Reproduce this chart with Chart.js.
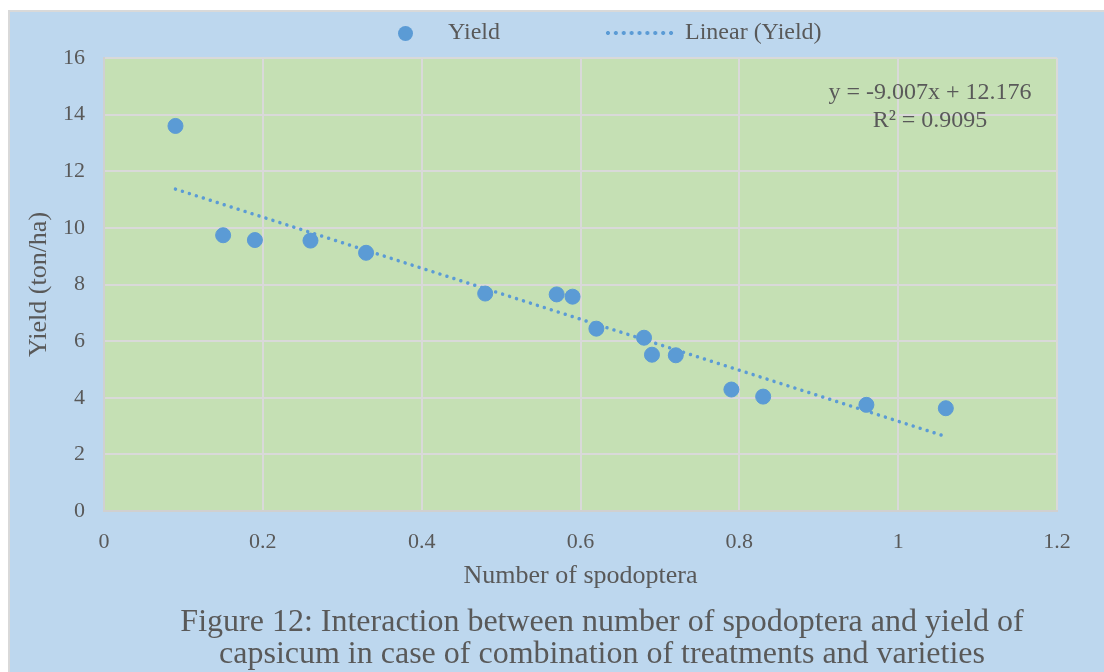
<!DOCTYPE html>
<html>
<head>
<meta charset="utf-8">
<script src="https://cdn.jsdelivr.net/npm/chart.js@4"></script>
<style>
  body { margin: 0; background: #fff; width: 1104px; height: 672px; overflow: hidden; position: relative; font-family: "Liberation Serif", serif; color: #595959; }
  #frame { position: absolute; left: 8px; top: 10px; right: 0; bottom: 0; background: #BDD7EE; border-left: 2px solid #D9D9D9; border-top: 2px solid #D9D9D9; }
  #graf { position: absolute; left: 0; top: 0; }
  .abs { position: absolute; white-space: nowrap; }
  #legDot { left: 398px; top: 26px; width: 15px; height: 15px; border-radius: 50%; background: #5B9BD5; }
  #legLine { left: 604px; top: 30px; width: 71px; height: 6px;
      background-image: radial-gradient(circle, #5B9BD5 1.7px, transparent 2.3px);
      background-size: 7.9px 6px; }
  .legTxt { font-size: 24px; top: 18px; }
  #eq { left: 780px; width: 300px; top: 77px; text-align: center; font-size: 24px; line-height: 28px; }
  #caption { left: 100px; width: 1004px; top: 604px; text-align: center; font-size: 32px; line-height: 32px; }
</style>
</head>
<body>
<div id="frame"></div>
<canvas id="graf" width="1104" height="672"></canvas>
<div class="abs" id="legDot"></div>
<div class="abs legTxt" style="left:448px">Yield</div>
<div class="abs" id="legLine"></div>
<div class="abs legTxt" style="left:685px">Linear (Yield)</div>
<div class="abs" id="eq">y = -9.007x + 12.176<br>R² = 0.9095</div>
<div class="abs" id="caption">Figure 12: Interaction between number of spodoptera and yield of<br>capsicum in case of combination of treatments and varieties</div>
<script>
const spodoptera = [0.09, 0.15, 0.19, 0.26, 0.33, 0.48, 0.57, 0.59, 0.62, 0.68, 0.69, 0.72, 0.79, 0.83, 0.96, 1.06];
const yieldTon = [13.6, 9.74, 9.57, 9.55, 9.12, 7.68, 7.65, 7.57, 6.44, 6.12, 5.52, 5.5, 4.29, 4.04, 3.75, 3.63];
const trendX = [0.09, 1.06];
const trendY = [11.37, 2.63];

const azul = '#5B9BD5';
const cinza = '#595959';

// fundo verde da área do gráfico
const fundoArea = {
    id: 'fundoArea',
    beforeDraw(chart) {
        const a = chart.chartArea;
        const c = chart.ctx;
        c.save();
        c.fillStyle = '#C5E0B4';
        c.fillRect(a.left, a.top, a.right - a.left, a.bottom - a.top);
        c.restore();
    }
};

const ctx = document.getElementById('graf').getContext('2d');
new Chart(ctx, {
    type: 'scatter',
    data: {
        datasets: [
            {
                label: 'Yield',
                data: spodoptera.map((x, i) => ({ x: x, y: yieldTon[i] })),
                backgroundColor: azul,
                borderColor: azul,
                pointRadius: 7.5,
                pointHoverRadius: 7.5
            },
            {
                label: 'Linear (Yield)',
                type: 'line',
                data: trendX.map((x, i) => ({ x: x, y: trendY[i] })),
                borderColor: azul,
                borderWidth: 3.5,
                borderDash: [0.01, 7.3],
                borderCapStyle: 'round',
                pointRadius: 0,
                fill: false
            }
        ]
    },
    options: {
        responsive: false,
        animation: false,
        layout: { padding: { top: 58, right: 47, left: 10, bottom: 80 } },
        plugins: {
            legend: { display: false },
            tooltip: { enabled: false }
        },
        scales: {
            x: {
                type: 'linear',
                min: 0,
                max: 1.2,
                afterFit: s => { s.height = 81; },
                grid: { color: '#D9D9D9', lineWidth: 2, drawTicks: false },
                border: { color: '#D0D0D0', width: 2 },
                ticks: {
                    stepSize: 0.2,
                    padding: 18,
                    color: cinza,
                    font: { family: 'Liberation Serif', size: 22 },
                    callback: v => +v.toFixed(1)
                },
                title: {
                    display: true,
                    text: 'Number of spodoptera',
                    color: cinza,
                    font: { family: 'Liberation Serif', size: 26 },
                    padding: { top: 0, bottom: 0 }
                }
            },
            y: {
                min: 0,
                max: 16,
                afterFit: s => { s.width = 94; },
                grid: { color: '#D9D9D9', lineWidth: 2, drawTicks: false },
                border: { color: '#D0D0D0', width: 2 },
                ticks: {
                    stepSize: 2,
                    padding: 19,
                    color: cinza,
                    font: { family: 'Liberation Serif', size: 22 }
                },
                title: {
                    display: true,
                    text: 'Yield (ton/ha)',
                    color: cinza,
                    font: { family: 'Liberation Serif', size: 26 },
                    padding: { top: 14, bottom: 0 }
                }
            }
        }
    },
    plugins: [fundoArea]
});
</script>
</body>
</html>
